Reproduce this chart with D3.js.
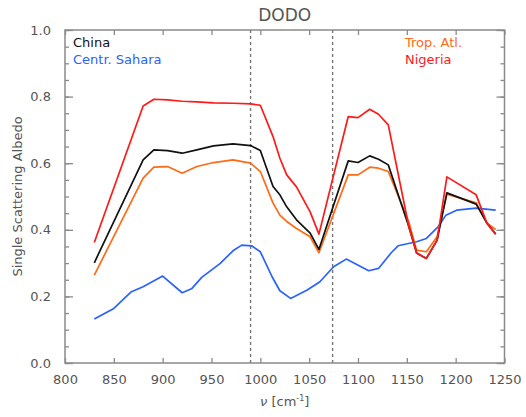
<!DOCTYPE html>
<html>
<head>
<meta charset="utf-8">
<script src="https://cdn.jsdelivr.net/npm/d3@7"></script>
<style>
  html, body { margin: 0; padding: 0; background: #fff; }
  svg { display: block; }
  text { font-family: "DejaVu Sans", sans-serif; fill: #555; }
</style>
</head>
<body>
<svg id="chart" width="526" height="417"></svg>
<script>
// Wavenumber grid (cm^-1) shared by the three dust-source curves
const nuDust = [830, 880, 891, 905, 920, 935, 952, 972, 990, 1000, 1013, 1020, 1027, 1037, 1051, 1060,
                1090, 1100, 1112, 1121, 1131, 1152, 1160, 1170, 1181, 1191, 1221, 1232, 1241];
const nigeria = [0.362, 0.772, 0.792, 0.790, 0.786, 0.784, 0.781, 0.780, 0.778, 0.774, 0.680, 0.615, 0.565, 0.529, 0.454, 0.387,
                 0.740, 0.737, 0.762, 0.747, 0.715, 0.410, 0.330, 0.314, 0.369, 0.559, 0.505, 0.420, 0.387];
const china = [0.301, 0.610, 0.640, 0.638, 0.630, 0.640, 0.652, 0.658, 0.653, 0.638, 0.530, 0.505, 0.469, 0.430, 0.390, 0.341,
               0.607, 0.602, 0.622, 0.612, 0.595, 0.410, 0.330, 0.314, 0.369, 0.511, 0.477, 0.420, 0.387];
const tropAtl = [0.264, 0.555, 0.588, 0.590, 0.570, 0.590, 0.602, 0.610, 0.600, 0.575, 0.480, 0.444, 0.425, 0.404, 0.379, 0.331,
                 0.565, 0.565, 0.588, 0.585, 0.575, 0.424, 0.339, 0.334, 0.379, 0.507, 0.481, 0.420, 0.401];

// Central Sahara curve on its own grid
const nuSahara = [830, 850, 868, 880, 900, 920, 930, 940, 959, 972, 981, 991, 1000, 1012, 1020, 1031, 1048, 1061, 1075, 1088,
                  1111, 1121, 1134, 1141, 1160, 1170, 1182, 1190, 1201, 1221, 1241];
const sahara = [0.132, 0.164, 0.214, 0.229, 0.261, 0.211, 0.224, 0.257, 0.299, 0.337, 0.354, 0.352, 0.334, 0.259, 0.217, 0.194,
                0.219, 0.244, 0.289, 0.312, 0.277, 0.284, 0.331, 0.352, 0.364, 0.374, 0.409, 0.444, 0.459, 0.465, 0.459];

// Window limits marked with dashed verticals
const windowLines = [990, 1074];

const xTicks = [800, 850, 900, 950, 1000, 1050, 1100, 1150, 1200, 1250];
const yTicks = [0.0, 0.2, 0.4, 0.6, 0.8, 1.0];
const yMinor = d3.range(0, 1.0001, 0.05);

const series = [
  { name: "Nigeria", nu: nuDust, values: nigeria, color: "#ff1a1a" },
  { name: "China", nu: nuDust, values: china, color: "#111111" },
  { name: "Trop. Atl.", nu: nuDust, values: tropAtl, color: "#ff6a14" },
  { name: "Centr. Sahara", nu: nuSahara, values: sahara, color: "#2a62ff" }
];

const svg = d3.select("#chart");
const m = { left: 65, right: 504.5, top: 30, bottom: 363 };
const x = d3.scaleLinear().domain([800, 1250]).range([m.left, m.right]);
const y = d3.scaleLinear().domain([0, 1]).range([m.bottom, m.top]);

const axisColor = "#8a8a8a";

// Dashed window lines
svg.append("g").selectAll("line").data(windowLines).join("line")
  .attr("x1", d => x(d)).attr("x2", d => x(d))
  .attr("y1", m.top).attr("y2", m.bottom)
  .attr("stroke", "#777").attr("stroke-width", 1.4)
  .attr("stroke-dasharray", "3,3");

// Curves
const line = d3.line().x(d => x(d[0])).y(d => y(d[1]));
const order = [series[3], series[2], series[1], series[0]];
svg.append("g").selectAll("path").data(order).join("path")
  .attr("d", s => line(s.nu.map((n, i) => [n, s.values[i]])))
  .attr("fill", "none")
  .attr("stroke", s => s.color)
  .attr("stroke-width", 1.7)
  .attr("stroke-linejoin", "round");

// Axes (ticks inward, on all four sides)
const bottomAxis = d3.axisBottom(x).tickValues(xTicks).tickSize(-5).tickPadding(12).tickFormat(d3.format("d"));
const topAxis = d3.axisTop(x).tickValues(xTicks).tickSize(-5).tickFormat("");
const leftAxis = d3.axisLeft(y).tickValues(yTicks).tickSize(-8).tickPadding(14).tickFormat(d3.format(".1f"));
const rightAxis = d3.axisRight(y).tickValues(yTicks).tickSize(-8).tickFormat("");
const leftMinor = d3.axisLeft(y).tickValues(yMinor).tickSize(-4).tickFormat("");
const rightMinor = d3.axisRight(y).tickValues(yMinor).tickSize(-4).tickFormat("");

function styleAxis(g) {
  g.select(".domain").remove();
  g.selectAll(".tick line").attr("stroke", axisColor).attr("stroke-width", 1.3);
  g.selectAll(".tick text").attr("fill", "#555").style("font-size", "13px")
    .style("font-family", "DejaVu Sans, sans-serif");
}

svg.append("g").attr("transform", `translate(0,${m.bottom})`).call(bottomAxis).call(styleAxis);
svg.append("g").attr("transform", `translate(0,${m.top})`).call(topAxis).call(styleAxis);
svg.append("g").attr("transform", `translate(${m.left},0)`).call(leftAxis).call(styleAxis);
svg.append("g").attr("transform", `translate(${m.right},0)`).call(rightAxis).call(styleAxis);
svg.append("g").attr("transform", `translate(${m.left},0)`).call(leftMinor).call(styleAxis);
svg.append("g").attr("transform", `translate(${m.right},0)`).call(rightMinor).call(styleAxis);

// Frame
svg.append("rect")
  .attr("x", m.left).attr("y", m.top)
  .attr("width", m.right - m.left).attr("height", m.bottom - m.top)
  .attr("fill", "none").attr("stroke", axisColor).attr("stroke-width", 1.5);

// Title
svg.append("text").attr("x", (m.left + m.right) / 2).attr("y", 21)
  .attr("text-anchor", "middle").style("font-size", "17px").text("DODO");

// Axis titles
svg.append("text").attr("x", (m.left + m.right) / 2).attr("y", 406)
  .attr("text-anchor", "middle").style("font-size", "13px")
  .html('<tspan font-style="italic">ν</tspan> [cm<tspan dy="-5" font-size="8px">-1</tspan><tspan dy="5">]</tspan>');
svg.append("text")
  .attr("transform", `translate(22,${(m.top + m.bottom) / 2}) rotate(-90)`)
  .attr("text-anchor", "middle").style("font-size", "13px")
  .text("Single Scattering Albedo");

// Legends
const legendLeft = [series[1], series[3]];
const legendRight = [series[2], series[0]];
svg.append("g").selectAll("text").data(legendLeft).join("text")
  .attr("x", 73).attr("y", (d, i) => 47 + i * 17)
  .style("font-size", "13px").style("fill", d => d.color).text(d => d.name);
svg.append("g").selectAll("text").data(legendRight).join("text")
  .attr("x", 405).attr("y", (d, i) => 47 + i * 17)
  .style("font-size", "13px").style("fill", d => d.color).text(d => d.name);
</script>
</body>
</html>
